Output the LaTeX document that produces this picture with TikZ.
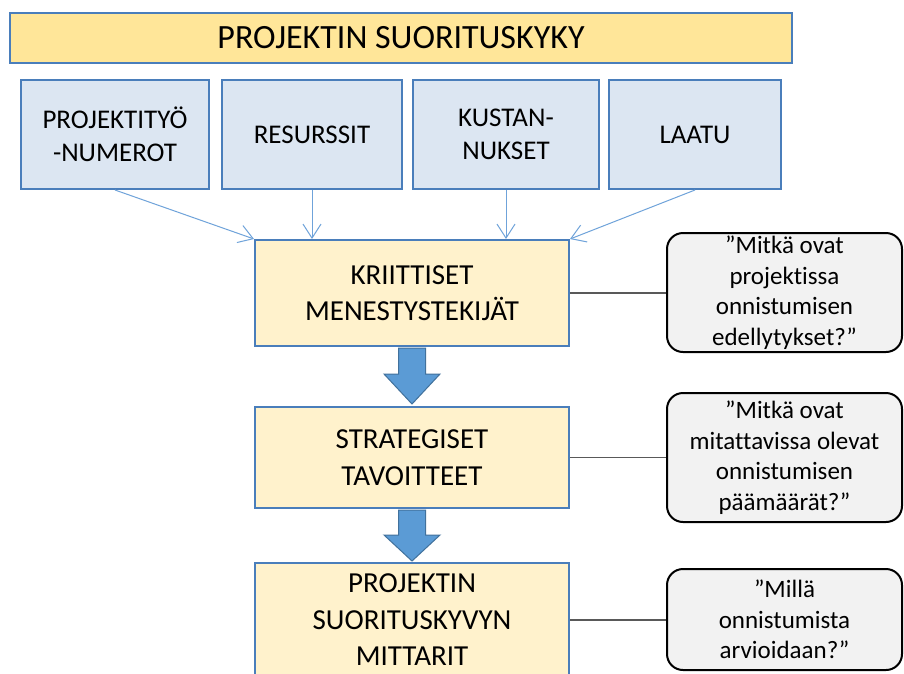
\documentclass[tikz,border=0pt]{standalone}
\usepackage{fontspec}
\setmainfont{Carlito}[RawFeature={-liga;-clig}]
\usetikzlibrary{arrows.meta,calc}
\definecolor{bannerfill}{HTML}{FFE699}
\definecolor{boxborder}{HTML}{4A7EBB}
\definecolor{bluefill}{HTML}{DCE6F2}
\definecolor{yellowfill}{HTML}{FFF2CC}
\definecolor{arrowfill}{HTML}{5B9BD5}
\definecolor{arrowedge}{HTML}{41719C}
\definecolor{thinline}{HTML}{6FA3DA}
\definecolor{calloutfill}{HTML}{F2F2F2}
\definecolor{linkgray}{HTML}{595959}
\tikzset{
  banner/.style={draw=boxborder, line width=2pt, fill=bannerfill, inner sep=0pt,
    font=\fontsize{34}{40}\selectfont},
  topbox/.style={draw=boxborder, line width=2pt, fill=bluefill, inner sep=0pt,
    align=center, minimum height=109pt, font=\fontsize{27}{33}\selectfont},
  mainbox/.style={draw=boxborder, line width=2pt, fill=yellowfill, inner sep=0pt,
    align=center, minimum width=314pt, font=\fontsize{29}{36.5}\selectfont},
  callout/.style={draw=black, line width=2pt, fill=calloutfill, rounded corners=16pt,
    inner sep=0pt, align=center, minimum width=235pt, font=\fontsize{25}{30.5}\selectfont},
  thinarrow/.style={draw=thinline, line width=1pt, -{Straight Barb[length=14pt,width=18pt]}},
  link/.style={draw=linkgray, line width=1.5pt},
  fatarrow/.style={fill=arrowfill, draw=arrowedge, line width=1pt}
}
\begin{document}
\begin{tikzpicture}[x=1pt,y=-1pt]
\clip (0,0) rectangle (904,673);
\fill[white] (0,0) rectangle (904,673);
\node[banner, minimum width=782pt, minimum height=50pt] (top) at (401,38) {PROJEKTIN SUORITUSKYKY};
\node[topbox, minimum width=188pt] (b1) at (115,134.5) {PROJEKTITYÖ\\-NUMEROT};
\node[topbox, minimum width=180pt] (b2) at (312,134.5) {RESURSSIT};
\node[topbox, minimum width=186pt] (b3) at (506,134.5) {KUSTAN-\\NUKSET};
\node[topbox, minimum width=172pt] (b4) at (695,134.5) {LAATU};
\node[mainbox, minimum height=106pt] (k) at (412,293) {KRIITTISET\\MENESTYSTEKIJÄT};
\node[mainbox, minimum height=101pt] (s) at (412,457.5) {STRATEGISET\\TAVOITTEET};
\node[mainbox, minimum height=114pt] (p) at (412,620) {PROJEKTIN\\SUORITUSKYVYN\\MITTARIT};
\node[callout, minimum height=119pt] (c1) at (784.5,292.5) {”Mitkä ovat\\projektissa\\onnistumisen\\edellytykset?”};
\node[callout, minimum height=129pt] (c2) at (784.5,457.5) {”Mitkä ovat\\mitattavissa olevat\\onnistumisen\\päämäärät?”};
\node[callout, minimum height=101pt] (c3) at (784.5,619.5) {”Millä\\onnistumista\\arvioidaan?”};
\draw[thinarrow] (b1.south) -- (k.north west);
\draw[thinarrow] (b2.south) -- (b2.south |- k.north);
\draw[thinarrow] (b3.south) -- (b3.south |- k.north);
\draw[thinarrow] (b4.south) -- (k.north east);
\draw[link] (k.east) -- (k.east -| c1.west);
\draw[link] (s.east) -- (s.east -| c2.west);
\draw[link] (p.east) -- (p.east -| c3.west);
\draw[fatarrow] ($(k.south)+(-13.5,1)$) -- ($(k.south)+(13.5,1)$) -- ($(k.south)+(13.5,27)$)
  -- ($(k.south)+(28,27)$) -- ($(s.north)+(0,-2)$) -- ($(k.south)+(-28,27)$)
  -- ($(k.south)+(-13.5,27)$) -- cycle;
\draw[fatarrow] ($(s.south)+(-13.5,1)$) -- ($(s.south)+(13.5,1)$) -- ($(s.south)+(13.5,26)$)
  -- ($(s.south)+(28,26)$) -- ($(p.north)+(0,-1)$) -- ($(s.south)+(-28,26)$)
  -- ($(s.south)+(-13.5,26)$) -- cycle;
\end{tikzpicture}
\end{document}
